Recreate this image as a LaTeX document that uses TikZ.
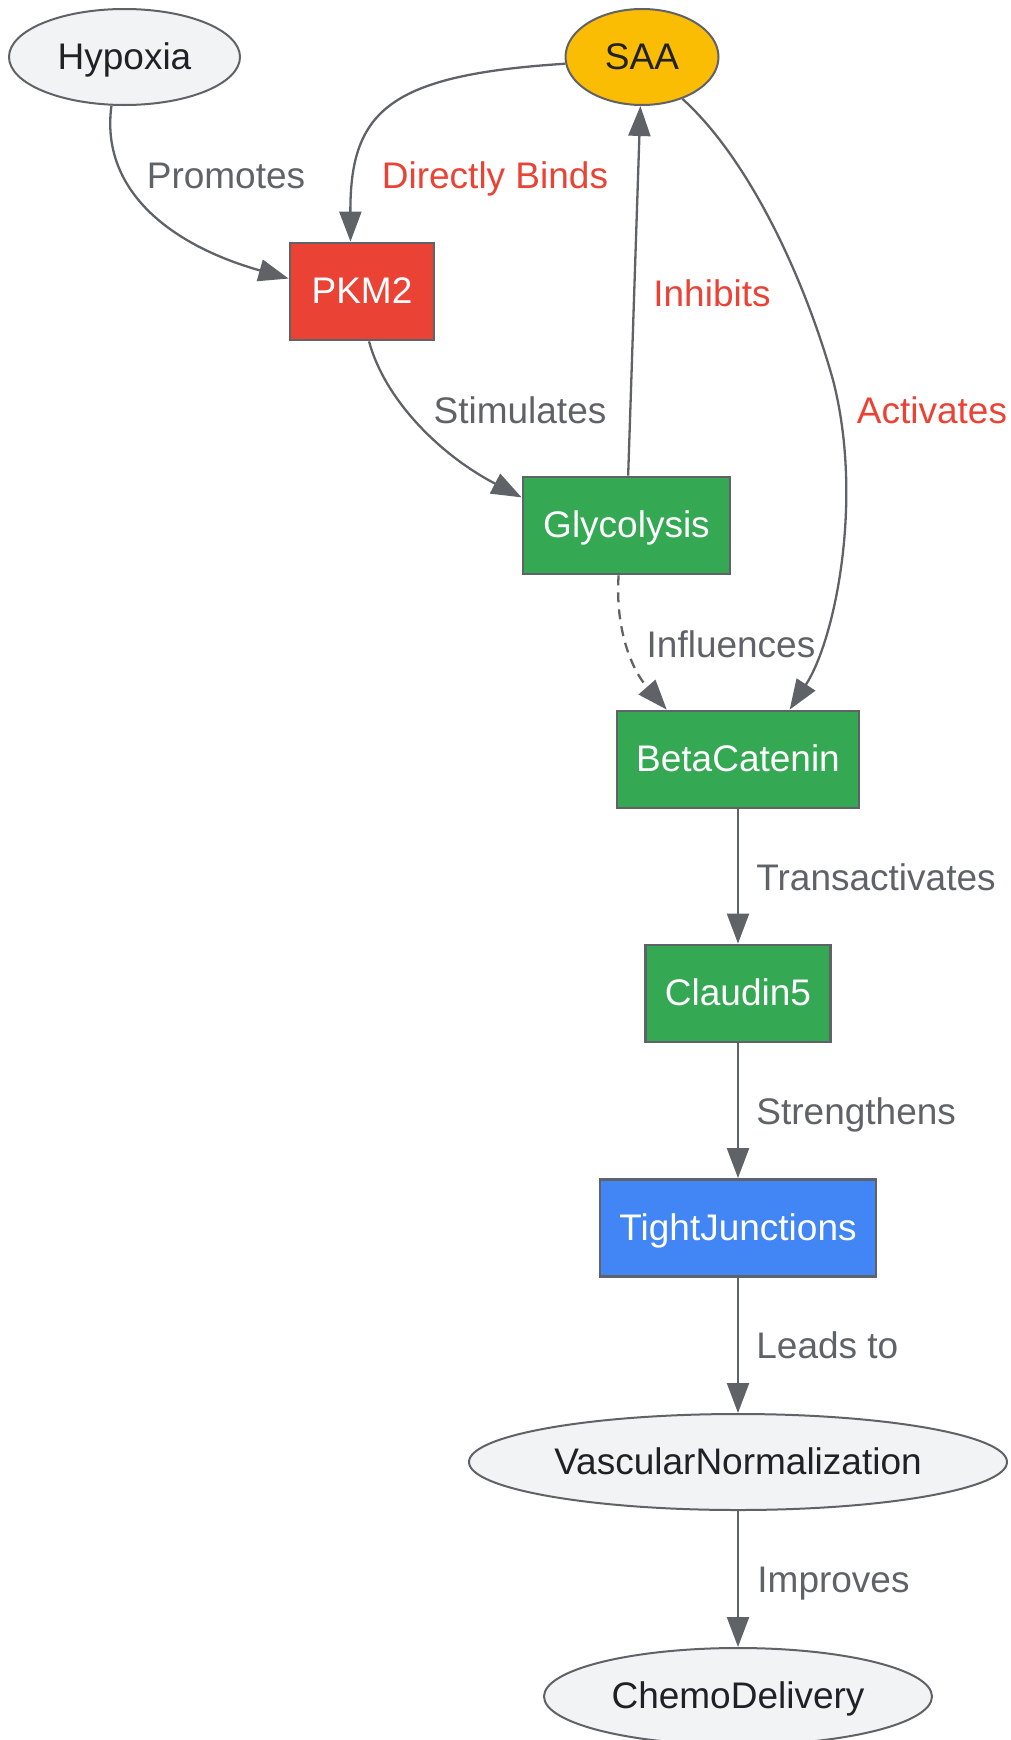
\documentclass[tikz,border=0pt]{standalone}
\usepackage{fontspec}
\setmainfont{Liberation Sans}
\usetikzlibrary{shapes.geometric,arrows.meta}

\definecolor{kante}{HTML}{5F6368}
\definecolor{grau}{HTML}{F1F3F4}
\definecolor{schrift}{HTML}{202124}
\definecolor{gelb}{HTML}{FBBC04}
\definecolor{rot}{HTML}{EA4335}
\definecolor{gruen}{HTML}{34A853}
\definecolor{blau}{HTML}{4285F4}

\begin{document}
\begin{tikzpicture}[%1 Einheit = 1 Pixel
        x=0.5pt, y=-0.5pt,
        font=\fontsize{18.5}{22}\selectfont,
        every node/.style={text height=1.34em, text depth=0.12em},
        box/.style={draw=kante, line width=1.4pt, rectangle, inner sep=0pt,
                    minimum height=48.5pt, text=white},
        oval/.style={draw=kante, line width=1pt, ellipse, inner sep=0pt,
                     minimum height=48pt, fill=grau, text=schrift},
        lbl/.style={text=kante, inner sep=0pt},
        lblrot/.style={text=rot, inner sep=0pt},
        pfeil/.style={draw=kante, line width=1.15pt,
                      -{Triangle[length=15pt,width=11pt]}}
        ]
            \useasboundingbox (0,0) rectangle (1011,1740);

            % Knoten
            \node[oval, minimum width=115.5pt]          (hyp) at (124.5,57)   {Hypoxia};
            \node[oval, minimum width=76.5pt, fill=gelb] (saa) at (642,57)     {SAA};
            \node[box, minimum width=72pt, fill=rot]    (pkm) at (362,291.5)  {PKM2};
            \node[box, minimum width=103.5pt, fill=gruen] (gly) at (626.5,525.5) {Glycolysis};
            \node[box, minimum width=121pt, fill=gruen] (bc)  at (738,759.5)  {BetaCatenin};
            \node[box, minimum width=92.5pt, fill=gruen] (cl)  at (738,993.5)  {Claudin5};
            \node[box, minimum width=138pt, fill=blau]  (tj)  at (738,1228)   {TightJunctions};
            \node[oval, minimum width=269pt]            (vn)  at (738,1462)   {VascularNormalization};
            \node[oval, minimum width=194pt, minimum height=48.5pt] (cd) at (738,1696.5) {ChemoDelivery};

            % Kanten
            \draw[pfeil] (hyp.-105) .. controls (100,190) and (170,245) .. (pkm.170);
            \draw[pfeil] (saa.185) .. controls (390,75) and (350,110) .. (pkm.103);
            \draw[pfeil] (gly) -- (saa);
            \draw[pfeil] (pkm.-82) .. controls (385,400) and (440,455) .. (gly.165);
            \draw[pfeil] (saa.-46) .. controls (750,160) and (805,280) .. (833,380)
                                   .. controls (864,500) and (835,640) .. (bc.44);
            \draw[pfeil, dash pattern=on 5pt off 3.5pt]
                         (gly.-99) .. controls (615,630) and (632,670) .. (bc.145);
            \draw[pfeil] (bc) -- (cl);
            \draw[pfeil] (cl) -- (tj);
            \draw[pfeil] (tj) -- (vn);
            \draw[pfeil] (vn) -- (cd);

            % Beschriftungen
            \node[lbl]    (lpro) at (226,176) {Promotes};
            \node[lblrot] (lbin) at (495,176) {Directly Binds};
            \node[lblrot] (linh) at (712,294) {Inhibits};
            \node[lbl]    (lsti) at (520,411) {Stimulates};
            \node[lblrot] (lact) at (932,411) {Activates};
            \node[lbl]    (linf) at (731,645) {Influences};
            \node[lbl, anchor=west] (ltra) at (756,878)  {Transactivates};
            \node[lbl, anchor=west] (lstr) at (756,1112) {Strengthens};
            \node[lbl, anchor=west] (llea) at (756,1346) {Leads to};
            \node[lbl, anchor=west] (limp) at (757,1580) {Improves};

        \end{tikzpicture}
\end{document}
